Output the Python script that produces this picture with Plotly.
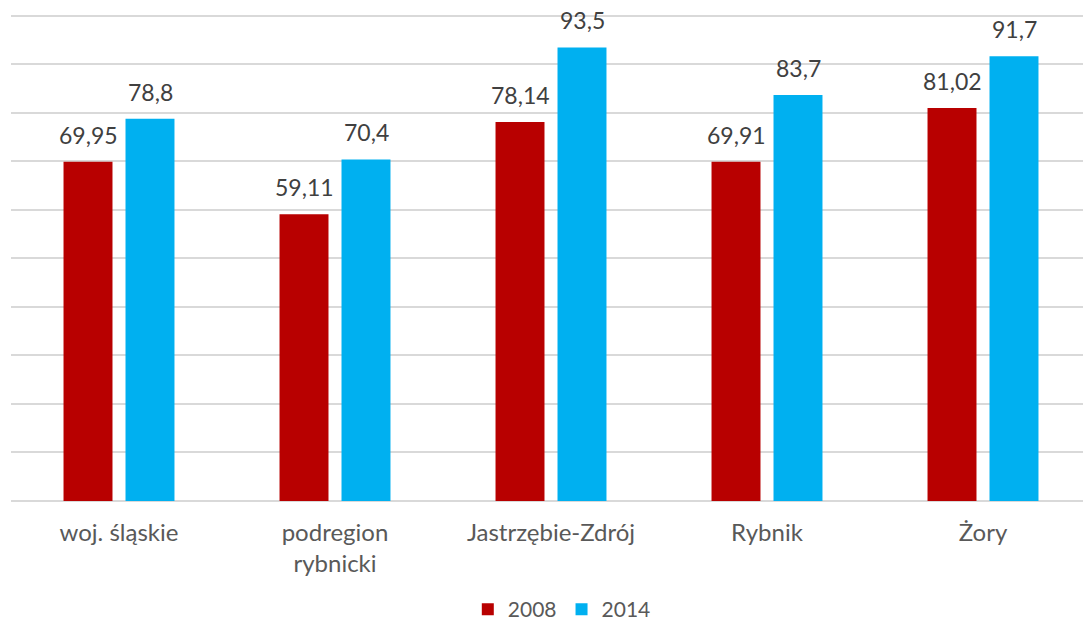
import plotly.graph_objects as go

categories = ["woj. śląskie", "podregion<br>rybnicki", "Jastrzębie-Zdrój", "Rybnik", "Żory"]
values_2008 = [69.95, 59.11, 78.14, 69.91, 81.02]
values_2014 = [78.8, 70.4, 93.5, 83.7, 91.7]
series_names = ["2008", "2014"]
colors = ["#B80000", "#00B0F0"]


def fmt(v):
    return f"{v:g}".replace(".", ",")


fig = go.Figure()
for name, vals, col in zip(series_names, [values_2008, values_2014], colors):
    fig.add_trace(go.Bar(
        x=categories, y=vals, name=name,
        marker=dict(color=col, line=dict(width=0)),
    ))

# value labels above each bar (offset to the bar within its group)
for shift, vals in zip([-31, 31], [values_2008, values_2014]):
    for c, v in zip(categories, vals):
        fig.add_annotation(x=c, y=v, text=fmt(v), showarrow=False,
                           xshift=shift, yshift=11, yanchor="bottom",
                           font=dict(size=23, color="#404040"))

# page body has an 8px default margin; size the figure so it fits the window
fig.update_layout(
    width=1083, height=615,
    margin=dict(l=3, r=0, t=4, b=122, autoexpand=False),
    paper_bgcolor="white", plot_bgcolor="white",
    font=dict(family="Century Gothic, Lato, sans-serif", color="#595959", size=23),
    barmode="group", bargap=0.426, bargroupgap=0.21,
    showlegend=True,
    legend=dict(orientation="h", x=0.51, xanchor="center", y=-0.222, yanchor="middle",
                font=dict(size=21, color="#595959"), itemwidth=30, tracegroupgap=0),
    xaxis=dict(showline=False, ticks="outside", tickcolor="rgba(0,0,0,0)", ticklen=10,
               tickfont=dict(size=24, color="#595959"), automargin=False),
    yaxis=dict(range=[0, 100.8], dtick=10, showticklabels=False, showgrid=True,
               gridcolor="#D9D9D9", gridwidth=1.5, zeroline=True, zerolinecolor="#D9D9D9",
               zerolinewidth=1.5, automargin=False),
)

fig.write_html("out.html")
